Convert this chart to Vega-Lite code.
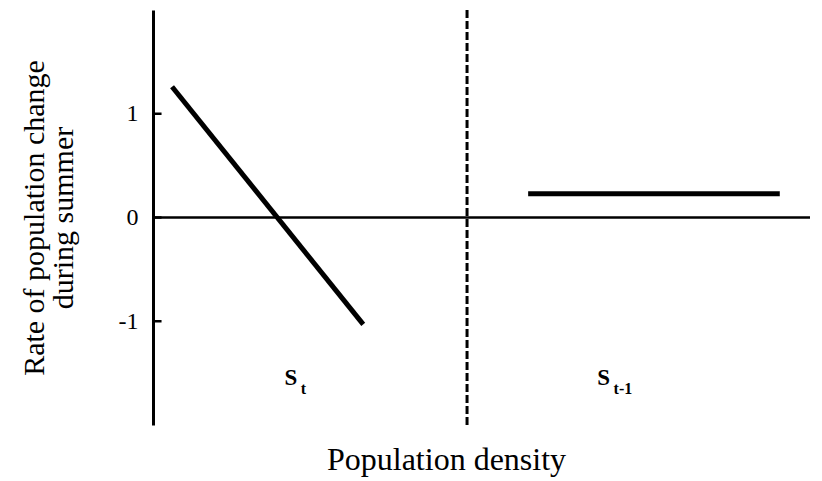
{
  "$schema": "https://vega.github.io/schema/vega-lite/v6.json",
  "width": 657,
  "height": 415,
  "autosize": {"type": "none"},
  "padding": {"left": 153, "top": 10, "right": 12, "bottom": 56},
  "background": "white",
  "config": {
    "view": {"stroke": null},
    "font": "Liberation Serif",
    "axis": {"grid": false}
  },
  "datasets": {
    "lines": [
      {"series": "St", "x": 2.9, "y": 1.26},
      {"series": "St", "x": 32.0, "y": -1.03},
      {"series": "St-1", "x": 57.1, "y": 0.23},
      {"series": "St-1", "x": 95.4, "y": 0.23}
    ],
    "zero": [{"y": 0}],
    "tickRows": [{"y": -1}, {"y": 0}, {"y": 1}],
    "divider": [{"x": 47.8}],
    "mainLabels": [
      {"x": 20.0, "y": -1.61, "label": "S"},
      {"x": 67.6, "y": -1.61, "label": "S"}
    ],
    "subLabels": [
      {"x": 22.5, "y": -1.7, "label": "t"},
      {"x": 70.1, "y": -1.7, "label": "t-1"}
    ]
  },
  "layer": [
    {
      "data": {"name": "zero"},
      "mark": {"type": "rule", "color": "black", "strokeWidth": 2.5},
      "encoding": {
        "y": {
          "field": "y",
          "type": "quantitative",
          "scale": {"domain": [-2, 2], "nice": false, "zero": false},
          "axis": {
            "values": [-1, 0, 1],
            "labelExpr": "toString(datum.value)",
            "domain": true,
            "domainColor": "black",
            "domainWidth": 3,
            "ticks": false,
            "labelFont": "Liberation Serif",
            "labelFontSize": 24,
            "labelColor": "black",
            "labelPadding": 15,
            "title": ["Rate of population change", "during summer"],
            "titleFont": "Liberation Serif",
            "titleFontSize": 30,
            "titleFontWeight": "normal",
            "titleColor": "black",
            "titleLineHeight": 29,
            "titleX": -104
          }
        }
      }
    },
    {
      "data": {"name": "tickRows"},
      "mark": {"type": "rule", "color": "black", "strokeWidth": 2.5, "strokeCap": "butt"},
      "encoding": {
        "x": {"datum": 0, "type": "quantitative"},
        "x2": {"datum": 1.3},
        "y": {"field": "y", "type": "quantitative"}
      }
    },
    {
      "data": {"name": "divider"},
      "mark": {"type": "rule", "color": "black", "strokeWidth": 3, "strokeDash": [8, 3]},
      "encoding": {
        "x": {
          "field": "x",
          "type": "quantitative",
          "scale": {"domain": [0, 100], "nice": false, "zero": false},
          "axis": {
            "domain": false,
            "ticks": false,
            "labels": false,
            "title": "Population density",
            "titleFont": "Liberation Serif",
            "titleFontSize": 32,
            "titleFontWeight": "normal",
            "titleColor": "black",
            "titleX": 293,
            "titleY": 44,
            "titleBaseline": "alphabetic"
          }
        }
      }
    },
    {
      "data": {"name": "lines"},
      "mark": {"type": "line", "color": "black", "strokeWidth": 5, "strokeCap": "butt"},
      "encoding": {
        "x": {"field": "x", "type": "quantitative"},
        "y": {"field": "y", "type": "quantitative"},
        "detail": {"field": "series"}
      }
    },
    {
      "data": {"name": "mainLabels"},
      "mark": {"type": "text", "font": "Liberation Serif", "fontSize": 23, "fontWeight": "bold", "align": "left", "baseline": "alphabetic", "color": "black"},
      "encoding": {
        "x": {"field": "x", "type": "quantitative"},
        "y": {"field": "y", "type": "quantitative"},
        "text": {"field": "label"}
      }
    },
    {
      "data": {"name": "subLabels"},
      "mark": {"type": "text", "font": "Liberation Serif", "fontSize": 16, "fontWeight": "bold", "align": "left", "baseline": "alphabetic", "color": "black"},
      "encoding": {
        "x": {"field": "x", "type": "quantitative"},
        "y": {"field": "y", "type": "quantitative"},
        "text": {"field": "label"}
      }
    }
  ]
}
